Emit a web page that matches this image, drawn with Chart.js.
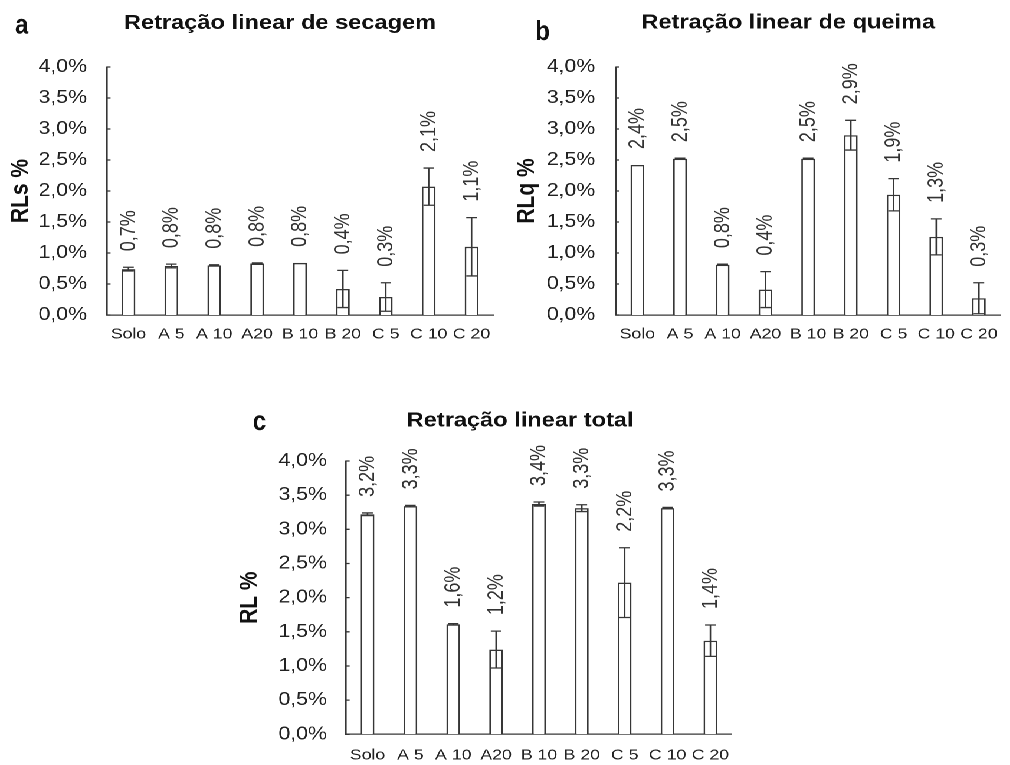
<!DOCTYPE html>
<html lang="pt">
<head>
<meta charset="utf-8">
<title>Retração linear</title>
<script src="https://cdn.jsdelivr.net/npm/chart.js@4.4.0/dist/chart.umd.min.js"></script>
<style>
  html, body { margin: 0; padding: 0; background: #fff; overflow: hidden; }
  /* the whole sheet is drawn slightly condensed and widened back out */
  #sheet { position: relative; width: 856px; height: 765px; transform: scaleX(1.18); transform-origin: 0 0; }
  #sheet canvas { position: absolute; }
</style>
</head>
<body>
<div id="sheet">
  <canvas id="chartA" width="428" height="350" style="left:0px;top:0px;width:428px;height:350px"></canvas>
  <canvas id="chartB" width="427" height="350" style="left:428.8px;top:0px;width:427px;height:350px"></canvas>
  <canvas id="chartC" width="440" height="370" style="left:193.9px;top:395px;width:440px;height:370px"></canvas>
</div>
<script>
// Formulations
const categories = ['Solo', 'A 5', 'A 10', 'A20', 'B 10', 'B 20', 'C 5', 'C 10', 'C 20'];

// Drying linear shrinkage (RLs, %) and its deviation
const secagemValues = [0.74, 0.79, 0.80, 0.83, 0.84, 0.42, 0.29, 2.07, 1.10];
const secagemErrors = [0.03, 0.03, 0.01, 0.01, 0.00, 0.30, 0.23, 0.30, 0.47];

// Firing linear shrinkage (RLq, %) and its deviation
const queimaValues = [2.42, 2.52, 0.81, 0.41, 2.52, 2.90, 1.94, 1.26, 0.27];
const queimaErrors = [0.00, 0.01, 0.01, 0.29, 0.01, 0.24, 0.26, 0.29, 0.25];

// Total linear shrinkage (RL, %) and its deviation
const totalValues = [3.22, 3.34, 1.61, 1.24, 3.37, 3.31, 2.22, 3.31, 1.37];
const totalErrors = [0.02, 0.01, 0.01, 0.27, 0.03, 0.05, 0.51, 0.01, 0.23];

// Value-axis ticks (percent)
const yTicks = [0, 0.5, 1.0, 1.5, 2.0, 2.5, 3.0, 3.5, 4.0];

const FONT = "'Liberation Sans', Arial, Helvetica, sans-serif";
const INK = '#363636';
const TEXT = '#222222';

const pct = v => v.toFixed(1).replace('.', ',') + '%';

// Error bars, rotated value labels, inner tick marks, heading and panel letter
function makeDecor(cfg) {
  return {
    id: 'decor',
    afterDatasetsDraw(chart) {
      const ctx = chart.ctx;
      const y = chart.scales.y;
      const meta = chart.getDatasetMeta(0);
      const values = chart.data.datasets[0].data;
      ctx.save();
      ctx.strokeStyle = INK;
      ctx.lineWidth = 1.3;
      meta.data.forEach((bar, i) => {
        const e = cfg.errors[i];
        if (!e) return;
        const v = values[i];
        const yt = y.getPixelForValue(v + e);
        const yb = y.getPixelForValue(v - e);
        const cap = 4.5;
        ctx.beginPath();
        ctx.moveTo(bar.x, yt); ctx.lineTo(bar.x, yb);
        ctx.moveTo(bar.x - cap, yt); ctx.lineTo(bar.x + cap, yt);
        ctx.moveTo(bar.x - cap, yb); ctx.lineTo(bar.x + cap, yb);
        ctx.stroke();
      });
      ctx.fillStyle = '#333';
      ctx.font = `18px ${FONT}`;
      ctx.textAlign = 'left';
      ctx.textBaseline = 'middle';
      meta.data.forEach((bar, i) => {
        const v = values[i];
        const top = y.getPixelForValue(v + (cfg.errors[i] || 0)) - 16;
        ctx.save();
        ctx.translate(bar.x + 0.5, top);
        ctx.rotate(-Math.PI / 2);
        ctx.fillText(pct(v), 0, 0);
        ctx.restore();
      });
      ctx.restore();
    },
    afterDraw(chart) {
      const ctx = chart.ctx;
      const y = chart.scales.y;
      const area = chart.chartArea;
      ctx.save();
      // tick marks pointing into the plot
      ctx.strokeStyle = INK;
      ctx.lineWidth = 1.3;
      ctx.beginPath();
      y.ticks.forEach((t, i) => {
        const py = y.getPixelForTick(i);
        ctx.moveTo(area.left, py);
        ctx.lineTo(area.left + 3, py);
      });
      ctx.stroke();
      // heading
      ctx.fillStyle = '#111';
      ctx.font = `bold 20px ${FONT}`;
      ctx.textAlign = 'center';
      ctx.textBaseline = 'alphabetic';
      ctx.fillText(cfg.title, cfg.titleX, cfg.titleY);
      // panel letter
      ctx.translate(cfg.letterX, cfg.letterY);
      ctx.scale(0.72, 1);
      ctx.font = `bold 28px ${FONT}`;
      ctx.textAlign = 'left';
      ctx.fillText(cfg.letter, 0, 0);
      ctx.restore();
    }
  };
}

function buildChart(id, cfg) {
  return new Chart(document.getElementById(id), {
    type: 'bar',
    data: {
      labels: categories,
      datasets: [{
        data: cfg.values,
        backgroundColor: '#ffffff',
        borderColor: INK,
        borderWidth: 1.4,
        borderSkipped: 'start',
        barPercentage: 0.32,
        categoryPercentage: 1.0
      }]
    },
    options: {
      responsive: false,
      animation: false,
      devicePixelRatio: 2,
      layout: { padding: cfg.padding },
      plugins: {
        legend: { display: false },
        tooltip: { enabled: false },
        title: { display: false }
      },
      scales: {
        x: {
          grid: { display: false, drawTicks: false },
          border: { display: true, color: INK, width: 1.3 },
          ticks: {
            color: TEXT,
            font: { family: FONT, size: 15 },
            padding: cfg.xPad,
            maxRotation: 0,
            autoSkip: false
          },
          afterFit: s => { s.height = cfg.xHeight; }
        },
        y: {
          min: 0,
          max: 4,
          grid: { display: false, drawTicks: false },
          border: { display: true, color: INK, width: 1.3 },
          afterBuildTicks: s => { s.ticks = yTicks.map(v => ({ value: v })); },
          ticks: {
            color: TEXT,
            font: { family: FONT, size: 18 },
            padding: cfg.yPad,
            callback: v => pct(v)
          },
          title: {
            display: true,
            text: cfg.axisTitle,
            color: '#111',
            font: { family: FONT, size: 21, weight: 'bold', lineHeight: 1.2 },
            padding: { top: 5, bottom: 0 }
          },
          afterFit: s => { s.width = cfg.yWidth; }
        }
      }
    },
    plugins: [makeDecor(cfg)]
  });
}

buildChart('chartA', {
  values: secagemValues, errors: secagemErrors,
  axisTitle: 'RLs %', title: 'Retração linear de secagem', letter: 'a',
  padding: { left: 0, top: 67, right: 10.2, bottom: 0 },
  yWidth: 90.7, xHeight: 35, yPad: 17, xPad: 10.5,
  titleX: 237.3, titleY: 29, letterX: 12.7, letterY: 33.3
});

buildChart('chartB', {
  values: queimaValues, errors: queimaErrors,
  axisTitle: 'RLq %', title: 'Retração linear de queima', letter: 'b',
  padding: { left: 0, top: 67, right: 0.8, bottom: 0 },
  yWidth: 93.0, xHeight: 35, yPad: 17.6, xPad: 10.5,
  titleX: 239.0, titleY: 28.5, letterX: 24.6, letterY: 40
});

buildChart('chartC', {
  values: totalValues, errors: totalErrors,
  axisTitle: 'RL %', title: 'Retração linear total', letter: 'c',
  padding: { left: 0, top: 66, right: 13.8, bottom: 0 },
  yWidth: 99.3, xHeight: 30.7, yPad: 16.3, xPad: 12,
  titleX: 246.8, titleY: 31.7, letterX: 20.3, letterY: 35
});
</script>
</body>
</html>
